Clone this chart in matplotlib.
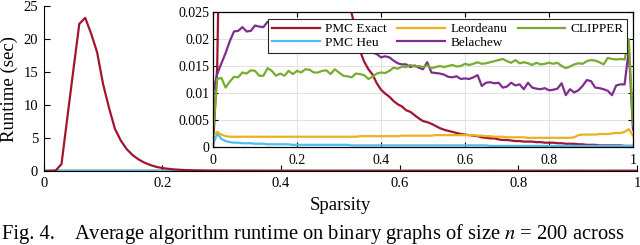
import numpy as np
import matplotlib
matplotlib.use("Agg")
import matplotlib.pyplot as plt

plt.rcParams["font.family"] = ["Liberation Serif", "DejaVu Serif"]
plt.rcParams["mathtext.fontset"] = "stix"

# sparsity grid (step 0.01)
sparsity = np.linspace(0, 1, 101)

# average runtime in seconds
pmc_exact = [
    0.0, 0.015, 0.06, 1.05, 8.2, 15.3, 22.3, 23.2, 20.8, 18.0,
    13.2, 9.6, 6.4, 4.6, 3.3, 2.4, 1.75, 1.25, 0.9, 0.62,
    0.45, 0.33, 0.24, 0.18, 0.135, 0.10, 0.078, 0.061, 0.048, 0.039,
    0.033, 0.029, 0.027, 0.0248, 0.0215, 0.0178, 0.0158, 0.0144, 0.0134, 0.0118,
    0.0106, 0.0099, 0.0093, 0.0085, 0.0079, 0.0075, 0.0068, 0.0065, 0.0059, 0.0053,
    0.0048, 0.0046, 0.0043, 0.0039, 0.0035, 0.0032, 0.0030, 0.0028, 0.0026, 0.0024,
    0.0023, 0.0022, 0.0021, 0.0020, 0.0018, 0.0017, 0.0016, 0.0016, 0.0014, 0.0013,
    0.0013, 0.0012, 0.0011, 0.0011, 0.0010, 0.0010, 0.0010, 0.0009, 0.0009, 0.0008,
    0.0008, 0.0008, 0.0007, 0.0007, 0.0006, 0.0006, 0.0006, 0.0005, 0.0005, 0.0004,
    0.0004, 0.0004, 0.0003, 0.0003, 0.0003, 0.0003, 0.0003, 0.0003, 0.0002, 0.0002,
    0.0002,
]
pmc_heu = [
    0.0004, 0.0025, 0.0015, 0.0011, 0.0009, 0.0008, 0.0008, 0.0007, 0.0007, 0.0007,
    0.0006, 0.0006, 0.0006, 0.0005, 0.0005, 0.0005, 0.0005, 0.0005, 0.0005, 0.0004,
    0.0004, 0.0004, 0.0004, 0.0004, 0.0004, 0.0004, 0.0004, 0.0004, 0.0004, 0.0004,
    0.0004, 0.0004, 0.0004, 0.0003, 0.0003, 0.0003, 0.0003, 0.0003, 0.0003, 0.0003,
    0.0003, 0.0003, 0.0003, 0.0003, 0.0003, 0.0003, 0.0003, 0.0003, 0.0003, 0.0003,
    0.0003, 0.0003, 0.0003, 0.0003, 0.0003, 0.0003, 0.0003, 0.0003, 0.0003, 0.0003,
    0.0003, 0.0003, 0.0003, 0.0003, 0.0003, 0.0003, 0.0002, 0.0002, 0.0002, 0.0002,
    0.0002, 0.0002, 0.0002, 0.0002, 0.0002, 0.0002, 0.0002, 0.0002, 0.0002, 0.0002,
    0.0002, 0.0002, 0.0002, 0.0002, 0.0002, 0.0002, 0.0002, 0.0002, 0.0002, 0.0002,
    0.0002, 0.0002, 0.0002, 0.0002, 0.0002, 0.0002, 0.0002, 0.0002, 0.0002, 0.0002,
    0.0002,
]
leordeanu = [
    0.0020, 0.0028, 0.0023, 0.0020, 0.0019, 0.0019, 0.0019, 0.0019, 0.0019, 0.0019,
    0.0019, 0.0019, 0.0019, 0.0019, 0.0019, 0.0019, 0.0019, 0.0019, 0.0019, 0.0019,
    0.0019, 0.0019, 0.0019, 0.0019, 0.0019, 0.0019, 0.0019, 0.0019, 0.0019, 0.0019,
    0.0019, 0.0019, 0.0019, 0.0019, 0.0019, 0.0020, 0.0020, 0.0020, 0.0020, 0.0020,
    0.0020, 0.0020, 0.0020, 0.0020, 0.0020, 0.0021, 0.0021, 0.0021, 0.0021, 0.0021,
    0.0021, 0.0021, 0.0021, 0.0022, 0.0022, 0.0022, 0.0022, 0.0022, 0.0022, 0.0022,
    0.0022, 0.0022, 0.0022, 0.0021, 0.0021, 0.0020, 0.0020, 0.0019, 0.0019, 0.0019,
    0.0018, 0.0018, 0.0018, 0.0018, 0.0018, 0.0017, 0.0017, 0.0017, 0.0017, 0.0017,
    0.0017, 0.0017, 0.0017, 0.0017, 0.0017, 0.0017, 0.0018, 0.0022, 0.0023, 0.0023,
    0.0023, 0.0023, 0.0024, 0.0024, 0.0024, 0.0025, 0.0026, 0.0026, 0.0028, 0.0033,
    0.0021,
]
belachew = [
    0.0101, 0.0135, 0.0155, 0.0174, 0.0196, 0.0214, 0.0215, 0.0222, 0.0214, 0.0215,
    0.0225, 0.0223, 0.0222, 0.0232, 0.0230, 0.0228, 0.0229, 0.0226, 0.0225, 0.0222,
    0.0223, 0.0220, 0.0218, 0.0216, 0.0214, 0.0212, 0.0209, 0.0207, 0.0203, 0.0200,
    0.0198, 0.0195, 0.0192, 0.0189, 0.0186, 0.0183, 0.0180, 0.0177, 0.0175, 0.0172,
    0.0166, 0.0168, 0.0166, 0.0160, 0.0155, 0.0153, 0.0153, 0.0148, 0.0151, 0.0147,
    0.0144, 0.0157, 0.0138, 0.0137, 0.0136, 0.0134, 0.0130, 0.0129, 0.0131, 0.0126,
    0.0127, 0.0126, 0.0129, 0.0133, 0.0113, 0.0119, 0.0120, 0.0118, 0.0119, 0.0110,
    0.0112, 0.0119, 0.0114, 0.0116, 0.0107, 0.0119, 0.0110, 0.0108, 0.0107, 0.0109,
    0.0105, 0.0106, 0.0108, 0.0118, 0.0096, 0.0107, 0.0101, 0.0105, 0.0113, 0.0124,
    0.0122, 0.0110, 0.0109, 0.0107, 0.0104, 0.0096, 0.0114, 0.0116, 0.0116, 0.0180,
    0.0032,
]
clipper = [
    0.0026, 0.0126, 0.0128, 0.0110, 0.0121, 0.0130, 0.0129, 0.0138, 0.0136, 0.0142,
    0.0141, 0.0132, 0.0132, 0.0146, 0.0141, 0.0132, 0.0136, 0.0132, 0.0141, 0.0135,
    0.0141, 0.0138, 0.0144, 0.0143, 0.0138, 0.0138, 0.0141, 0.0142, 0.0135, 0.0144,
    0.0138, 0.0132, 0.0131, 0.0129, 0.0136, 0.0135, 0.0133, 0.0126, 0.0130, 0.0136,
    0.0138, 0.0137, 0.0141, 0.0147, 0.0145, 0.0149, 0.0148, 0.0152, 0.0149, 0.0150,
    0.0148, 0.0151, 0.0146, 0.0148, 0.0150, 0.0148, 0.0150, 0.0152, 0.0149, 0.0150,
    0.0154, 0.0152, 0.0154, 0.0157, 0.0154, 0.0155, 0.0157, 0.0159, 0.0161, 0.0163,
    0.0159, 0.0156, 0.0161, 0.0155, 0.0157, 0.0155, 0.0152, 0.0156, 0.0153, 0.0154,
    0.0156, 0.0154, 0.0156, 0.0150, 0.0146, 0.0149, 0.0153, 0.0155, 0.0154, 0.0159,
    0.0161, 0.0160, 0.0157, 0.0153, 0.0165, 0.0163, 0.0162, 0.0163, 0.0162, 0.0200,
    0.0040,
]

labels = ["PMC Exact", "PMC Heu", "Leordeanu", "Belachew", "CLIPPER"]
series = [pmc_exact, pmc_heu, leordeanu, belachew, clipper]
colors = ["#A2142F", "#4DBEEE", "#EDB120", "#7E2F8E", "#77AC30"]
LW = 1.6

fig = plt.figure(figsize=(6.4, 2.45), dpi=100)

# main axes: everything drawn, near-zero lines sit on the x axis
ax = fig.add_axes([43.7 / 640, 1 - 171 / 245, (637 - 43.7) / 640, 165 / 245])
for vals, c in [(leordeanu, colors[2]), (belachew, colors[3]), (clipper, colors[4]),
                (pmc_heu, colors[1]), (pmc_exact, colors[0])]:
    ax.plot(sparsity, vals, color=c, lw=LW)
ax.set_xlim(0, 1)
ax.set_ylim(0, 25)
ax.set_xticks([0, 0.2, 0.4, 0.6, 0.8, 1])
ax.set_xticklabels(["0", "0.2", "0.4", "0.6", "0.8", "1"])
ax.set_yticks([0, 5, 10, 15, 20, 25])
ax.spines["top"].set_visible(False)
ax.spines["right"].set_visible(False)
ax.tick_params(direction="in", length=4.5, width=0.8, labelsize=10.5, pad=4)
ax.set_xlabel("Sparsity", fontsize=13.5)
ax.set_ylabel("Runtime (sec)", fontsize=13.5)
ax.xaxis.set_label_coords(0.5, -0.16)
ax.yaxis.set_label_coords(-0.043, 0.5)

# inset zoom on the small runtimes
ins = fig.add_axes([213 / 640, 1 - 147 / 245, 420 / 640, 135 / 245])
for vals, c, lab in zip(series, colors, labels):
    ins.plot(sparsity, vals, color=c, lw=LW, label=lab)
ins.set_xlim(0, 1)
ins.set_ylim(0, 0.025)
ins.set_xticks([0, 0.2, 0.4, 0.6, 0.8, 1])
ins.set_xticklabels(["0", "0.2", "0.4", "0.6", "0.8", "1"])
ins.set_yticks([0, 0.005, 0.01, 0.015, 0.02, 0.025])
ins.set_yticklabels(["0", "0.005", "0.01", "0.015", "0.02", "0.025"])
ins.grid(True, color="#dddddd", lw=0.6)
ins.tick_params(direction="in", length=3.5, width=0.8, top=True, right=True, labelsize=10)
ins.tick_params(axis="x", pad=5)
ins.tick_params(axis="y", pad=2.5)
for s in ins.spines.values():
    s.set_linewidth(0.9)

leg = ins.legend(ncol=3, loc="upper left", bbox_to_anchor=(0.132, 0.946),
                 fontsize=9.5, frameon=True, fancybox=False, framealpha=1,
                 handlelength=3.6, handletextpad=0.4, columnspacing=0.8,
                 labelspacing=0.1, borderpad=0.3, borderaxespad=0)
leg.get_frame().set_edgecolor("#262626")
leg.get_frame().set_linewidth(0.8)

# caption at the very bottom edge
fig.text(2 / 640, 6 / 245, "Fig. 4.", fontsize=14.8, va="baseline")
fig.text(74 / 640, 6 / 245,
         "Average algorithm runtime on binary graphs of size $n$ = 200 across",
         fontsize=14.8, va="baseline")

fig.savefig("out.png", dpi=100)
